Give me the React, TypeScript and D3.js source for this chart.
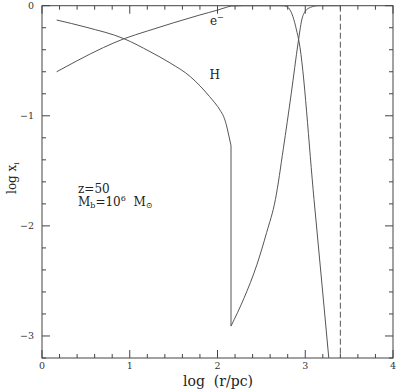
import React from "react";
import * as d3 from "d3";

// e⁻ fraction (log x_e)
const eX = [0.167, 0.4, 0.7, 0.935, 1.2, 1.5, 1.8, 2.0, 2.1, 2.16, 2.3, 2.5, 2.7, 2.75, 2.78, 2.82, 2.86, 2.9, 2.93, 3.1, 3.28];
const eY = [-0.6, -0.5, -0.38, -0.3, -0.23, -0.155, -0.084, -0.04, -0.015, -0.003, 0, 0, 0, -0.001, -0.006, -0.03, -0.1, -0.22, -0.33, -1.76, -3.3];

// H fraction, inner branch (before the jump)
const hInX = [0.167, 0.5, 0.935, 1.23, 1.46, 1.69, 1.91, 2.03, 2.07, 2.1, 2.14, 2.154];
const hInY = [-0.13, -0.195, -0.3, -0.417, -0.52, -0.644, -0.826, -0.95, -1.007, -1.08, -1.22, -1.27];
// H fraction, outer branch (after the jump)
const hOutX = [2.154, 2.3, 2.45, 2.56, 2.66, 2.75, 2.84, 2.92, 2.96, 3.0, 3.06, 3.15, 3.4];
const hOutY = [-2.91, -2.66, -2.35, -2.06, -1.76, -1.3, -0.8, -0.33, -0.13, -0.05, -0.015, 0, 0];

const dashedX = 3.4;
const xMajor = [0, 1, 2, 3, 4];
const yMajor = [0, -1, -2, -3];

export default function App() {
  const W = 400, H = 392;
  const x = d3.scaleLinear().domain([0, 4]).range([42, 393]);
  const y = d3.scaleLinear().domain([-3.2, 0]).range([358, 5.7]);
  const [x0, x1] = x.range();
  const [yb, yt] = y.range();

  const line = d3
    .line<[number, number]>()
    .x((d) => x(d[0]))
    .y((d) => y(d[1]))
    .curve(d3.curveMonotoneX);
  const zip = (a: number[], b: number[]) => a.map((v, i) => [v, b[i]] as [number, number]);

  const ePath = line(zip(eX, eY)) || "";
  const hIn = line(zip(hInX, hInY)) || "";
  const hOut = line(zip(hOutX, hOutY)) || "";
  const hLink = `M${x(hInX[hInX.length - 1])},${y(hInY[hInY.length - 1])}L${x(hOutX[0])},${y(hOutY[0])}`;

  const xMinor = d3.range(0, 4.0001, 0.2).filter((v) => Math.abs(v - Math.round(v)) > 1e-6);
  const yMinor = d3.range(0, -3.2001, -0.2).filter((v) => Math.abs(v - Math.round(v)) > 1e-6);

  const axisColor = "#444";
  const lineColor = "#555";
  const font = "DejaVu Serif";
  const maj = 8, min = 4;

  return (
    <svg width={W} height={H} style={{ position: "absolute", left: 0, top: 0, background: "#fff" }}>
      <defs>
        <clipPath id="plot">
          <rect x={x0} y={yt} width={x1 - x0} height={yb - yt} />
        </clipPath>
      </defs>
      <rect x={0} y={0} width={W} height={H} fill="#fff" />
      {/* frame */}
      <rect x={x0} y={yt} width={x1 - x0} height={yb - yt} fill="none" stroke={axisColor} strokeWidth={1} />
      {/* x ticks bottom and top */}
      {xMajor.map((v) => (
        <g key={"xm" + v}>
          <line x1={x(v)} x2={x(v)} y1={yb} y2={yb - maj} stroke={axisColor} />
          <line x1={x(v)} x2={x(v)} y1={yt} y2={yt + maj} stroke={axisColor} />
        </g>
      ))}
      {xMinor.map((v, i) => (
        <g key={"xn" + i}>
          <line x1={x(v)} x2={x(v)} y1={yb} y2={yb - min} stroke={axisColor} />
          <line x1={x(v)} x2={x(v)} y1={yt} y2={yt + min} stroke={axisColor} />
        </g>
      ))}
      {yMajor.map((v) => (
        <g key={"ym" + v}>
          <line x1={x0} x2={x0 + maj} y1={y(v)} y2={y(v)} stroke={axisColor} />
          <line x1={x1} x2={x1 - maj} y1={y(v)} y2={y(v)} stroke={axisColor} />
        </g>
      ))}
      {yMinor.map((v, i) => (
        <g key={"yn" + i}>
          <line x1={x0} x2={x0 + min} y1={y(v)} y2={y(v)} stroke={axisColor} />
          <line x1={x1} x2={x1 - min} y1={y(v)} y2={y(v)} stroke={axisColor} />
        </g>
      ))}
      {/* tick labels */}
      {xMajor.map((v) => (
        <text key={"xl" + v} x={x(v)} y={yb + 10.5} fontFamily={font} fontSize={9.5} textAnchor="middle" fill="#333">
          {String(v)}
        </text>
      ))}
      {yMajor.map((v) => (
        <text key={"yl" + v} x={x0 - 8} y={y(v) + 3.5} fontFamily={font} fontSize={9.5} textAnchor="end" fill="#333">
          {v === 0 ? "0" : "\u2212" + Math.abs(v)}
        </text>
      ))}
      {/* axis titles */}
      <text x={(x0 + x1) / 2 + 0.5} y={386} fontFamily={font} fontSize={14} textAnchor="middle" fill="#222" style={{ whiteSpace: "pre" }}>
        {"log  (r/pc)"}
      </text>
      <text transform="translate(16,178) rotate(-90)" fontFamily={font} fontSize={12} textAnchor="middle" fill="#222">
        log x
        <tspan fontSize={8} dy={3}>i</tspan>
      </text>
      {/* curves */}
      <g clipPath="url(#plot)" fill="none" stroke={lineColor} strokeWidth={1}>
        <path d={ePath} />
        <path d={hIn} />
        <path d={hLink} />
        <path d={hOut} />
        <line x1={x(dashedX)} x2={x(dashedX)} y1={yt} y2={yb} strokeDasharray="6,3" />
      </g>
      {/* curve labels */}
      <text x={210} y={25} fontFamily={font} fontSize={12} fill="#222">
        e<tspan fontSize={8} dy={-5}>−</tspan>
      </text>
      <text x={209.5} y={79} fontFamily={font} fontSize={12} fill="#222">
        H
      </text>
      {/* annotation */}
      <text x={78} y={193} fontFamily={font} fontSize={12} fill="#222">
        z=50
      </text>
      <text x={78} y={206} fontFamily={font} fontSize={12} fill="#222" style={{ whiteSpace: "pre" }}>
        M<tspan fontSize={8} dy={2}>b</tspan>
        <tspan dy={-2}>=10</tspan>
        <tspan fontSize={8} dy={-5}>6</tspan>
        <tspan dy={5}>{"  M"}</tspan>
        <tspan fontSize={8} dy={2}>⊙</tspan>
      </text>
    </svg>
  );
}
